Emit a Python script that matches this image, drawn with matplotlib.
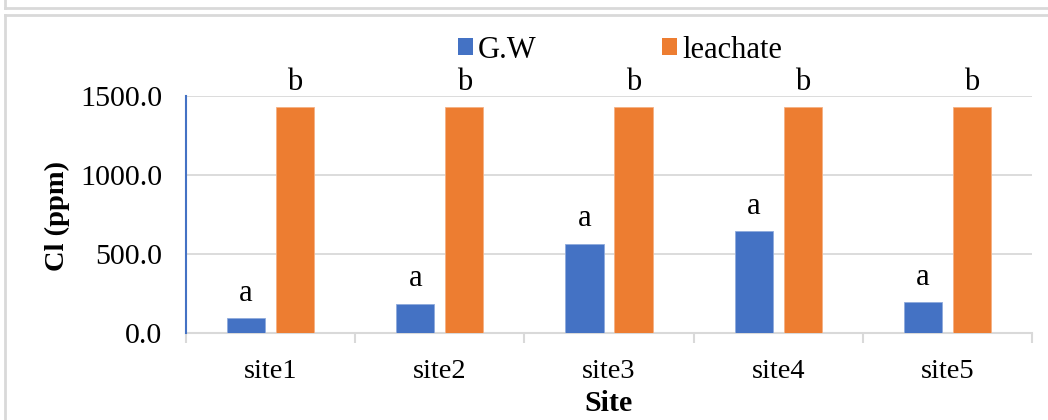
import matplotlib
matplotlib.use("Agg")
import matplotlib.pyplot as plt
from matplotlib.patches import Patch
from matplotlib.lines import Line2D
import numpy as np

categories = ["site1", "site2", "site3", "site4", "site5"]
gw = [95, 185, 565, 645, 195]
leachate = [1430, 1430, 1430, 1430, 1430]
gw_letters = ["a", "a", "a", "a", "a"]
leach_letters = ["b", "b", "b", "b", "b"]
yticks = [0, 500, 1000, 1500]

BLUE = "#4472C4"
ORANGE = "#ED7D31"
GRID = "#D9D9D9"

plt.rcParams['font.family'] = ['Liberation Serif', 'DejaVu Serif']

W, H = 1048, 420
fig = plt.figure(figsize=(W / 100, H / 100), dpi=100)

def fx(px):
    return px / W

def fy(py):
    return 1 - py / H

# outer borders (Excel style)
fig.add_artist(Line2D([fx(5), fx(1048)], [fy(7.5), fy(7.5)], color="#D9D9D9", lw=2))
fig.add_artist(Line2D([fx(5), fx(5)], [fy(0), fy(7.5)], color="#D9D9D9", lw=2))
fig.add_artist(Line2D([fx(5), fx(1048)], [fy(15), fy(15)], color="#D9D9D9", lw=2))
fig.add_artist(Line2D([fx(5), fx(5)], [fy(15), fy(420)], color="#D9D9D9", lw=2))

left, right, top, bottom = 186, 1032, 96, 333
ax = fig.add_axes([fx(left), fy(bottom), fx(right - left), (bottom - top) / H])

x = np.arange(len(categories))
off = 0.145
bw = 0.225
ax.bar(x - off, gw, width=bw, color=BLUE, edgecolor="#8FAADC", linewidth=0.6, zorder=3)
ax.bar(x + off, leachate, width=bw, color=ORANGE, edgecolor="#F4B183", linewidth=0.6, zorder=3)

for xi, v, t in zip(x - off, gw, gw_letters):
    ax.annotate(t, (xi, v), xytext=(0, 12.5), textcoords="offset points",
                ha="center", va="baseline", fontsize=22)
for xi, v, t in zip(x + off, leachate, leach_letters):
    ax.annotate(t, (xi, v), xytext=(0, 12.5), textcoords="offset points",
                ha="center", va="baseline", fontsize=22)

ax.set_xlim(-0.5, len(categories) - 0.5)
ax.set_ylim(0, 1500)
ax.set_yticks(yticks)
ax.set_yticklabels([f"{v:.1f}" for v in yticks], fontsize=21.6)
ax.set_xticks(x)
ax.set_xticklabels(categories, fontsize=20.5)
ax.set_xticks(np.arange(-0.5, len(categories)), minor=True)
ax.tick_params(axis="x", which="major", length=0, pad=18.5)
ax.tick_params(axis="x", which="minor", length=7, color=GRID, width=1.5)
ax.tick_params(axis="y", which="major", length=0, pad=17)

ax.yaxis.grid(True, color=GRID, lw=1.3, zorder=0)
ax.set_axisbelow(True)
for s in ["top", "right"]:
    ax.spines[s].set_visible(False)
ax.spines["left"].set_color(BLUE)
ax.spines["left"].set_linewidth(1.5)
ax.spines["bottom"].set_color(GRID)
ax.spines["bottom"].set_linewidth(1.5)
ax.spines["left"].set_zorder(4)

fig.text(fx(57), fy(216), "Cl (ppm)", rotation=90, ha="center", va="center",
         fontsize=20.5, fontweight="bold")
fig.text(fx(608), fy(403.5), "Site", ha="center", va="center",
         fontsize=21.5, fontweight="bold")

handles = [Patch(facecolor=BLUE, label="G.W"), Patch(facecolor=ORANGE, label="leachate")]
fig.legend(handles=handles, loc="center", bbox_to_anchor=(fx(620), fy(50)), ncol=2,
           frameon=False, fontsize=22, handlelength=0.5, handleheight=0.5,
           handletextpad=0.15, columnspacing=4.1, borderaxespad=0, borderpad=0)

fig.savefig("out.png", dpi=100)
